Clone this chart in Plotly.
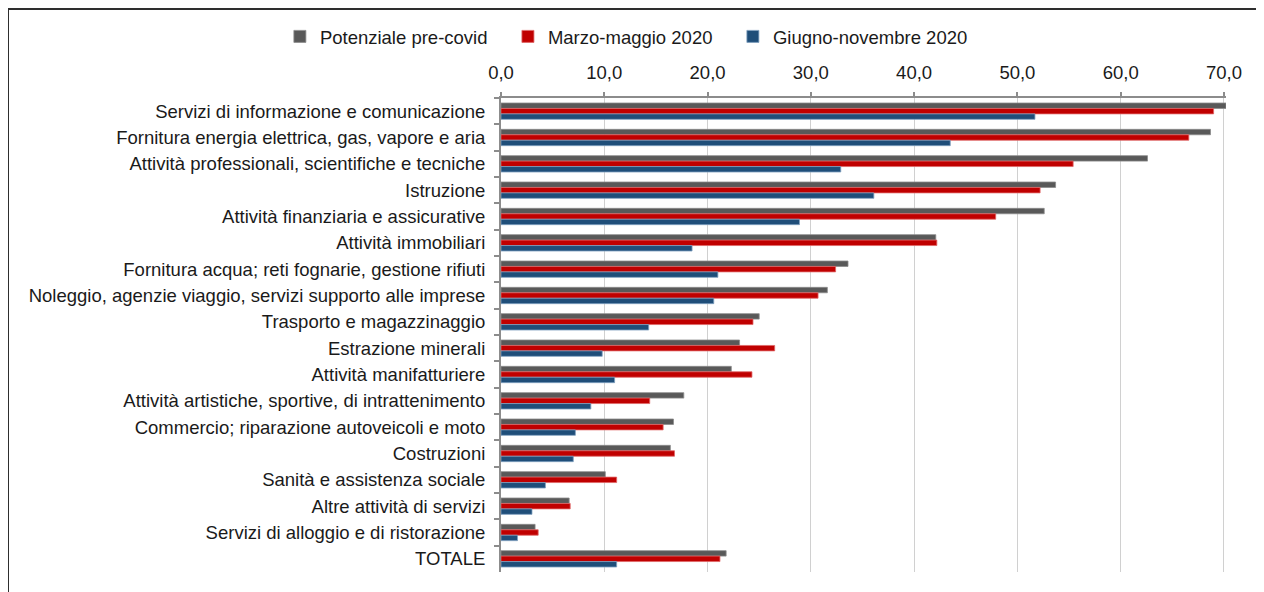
import plotly.graph_objects as go

# settori (dall'alto verso il basso)
settori = [
    "Servizi di informazione e comunicazione",
    "Fornitura energia elettrica, gas, vapore e aria",
    "Attività professionali, scientifiche e tecniche",
    "Istruzione",
    "Attività finanziaria e assicurative",
    "Attività immobiliari",
    "Fornitura acqua; reti fognarie, gestione rifiuti",
    "Noleggio, agenzie viaggio, servizi supporto alle imprese",
    "Trasporto e magazzinaggio",
    "Estrazione minerali",
    "Attività manifatturiere",
    "Attività artistiche, sportive, di intrattenimento",
    "Commercio; riparazione autoveicoli e moto",
    "Costruzioni",
    "Sanità e assistenza sociale",
    "Altre attività di servizi",
    "Servizi di alloggio e di ristorazione",
    "TOTALE",
]

potenziale = [70.2, 68.7, 62.6, 53.7, 52.6, 42.1, 33.6, 31.6, 25.0, 23.1,
              22.3, 17.7, 16.7, 16.4, 10.1, 6.6, 3.3, 21.8]
marzo_maggio = [69.0, 66.6, 55.4, 52.2, 47.9, 42.2, 32.4, 30.7, 24.4, 26.5,
                24.3, 14.4, 15.7, 16.8, 11.2, 6.7, 3.6, 21.2]
giugno_nov = [51.7, 43.5, 32.9, 36.1, 28.9, 18.5, 21.0, 20.6, 14.3, 9.8,
              11.0, 8.7, 7.2, 7.0, 4.3, 3.0, 1.6, 11.2]

pad = "\u00a0" * 3
serie = [
    ("Potenziale pre-covid" + pad, potenziale, "#595959", "#8c8c8c"),
    ("Marzo-maggio 2020" + pad, marzo_maggio, "#C00000", "#e06666"),
    ("Giugno-novembre 2020", giugno_nov, "#1F4E79", "#7f9fbf"),
]

fig = go.Figure()
for nome, vals, col, bordo in serie:
    fig.add_trace(go.Bar(
        y=settori, x=vals, name=nome, orientation="h",
        marker=dict(color=col, line=dict(color=bordo, width=0.8)),
    ))

W, H = 1264, 592
L, R, T, B = 493, 46, 90, 28
pw, ph = W - L - R, H - T - B

fig.update_layout(
    width=W, height=H,
    margin=dict(l=L, r=R, t=T, b=B, autoexpand=False),
    paper_bgcolor="white", plot_bgcolor="white",
    barmode="group", bargap=0.38, bargroupgap=0,
    font=dict(family="Arial, Liberation Sans, sans-serif", size=18.5, color="#1a1a1a"),
    legend=dict(orientation="h", x=-0.305, xanchor="left", y=1.129, yanchor="middle",
                font=dict(size=18.5), itemwidth=30, traceorder="normal"),
    showlegend=True,
)
fig.update_xaxes(
    side="top", range=[0, 70.2], tickvals=[0, 10, 20, 30, 40, 50, 60, 70],
    ticktext=["0,0", "10,0", "20,0", "30,0", "40,0", "50,0", "60,0", "70,0"],
    showgrid=True, gridcolor="#d0d0d0", gridwidth=1,
    showline=True, linecolor="#8c8c8c", linewidth=2,
    ticks="outside", ticklen=4, tickcolor="#8c8c8c", tickwidth=2,
    ticklabelstandoff=6, zeroline=False,
)
fig.update_yaxes(
    autorange="reversed", showline=True, linecolor="#8c8c8c", linewidth=2,
    ticks="outside", ticklen=5, tickcolor="#8c8c8c", tickwidth=2,
    tickson="boundaries", ticklabelstandoff=10, showgrid=False,
)

# cornice esterna (visibili solo bordo superiore e sinistro)
x0 = (0 - L) / pw
y1 = (H - B - 1) / ph
fig.add_shape(type="line", xref="paper", yref="paper", x0=x0, x1=1.2, y0=y1, y1=y1,
              line=dict(color="#2e2e2e", width=2))
fig.add_shape(type="line", xref="paper", yref="paper", x0=x0, x1=x0, y0=y1, y1=-0.2,
              line=dict(color="#2e2e2e", width=2))

fig.write_html("out.html")
